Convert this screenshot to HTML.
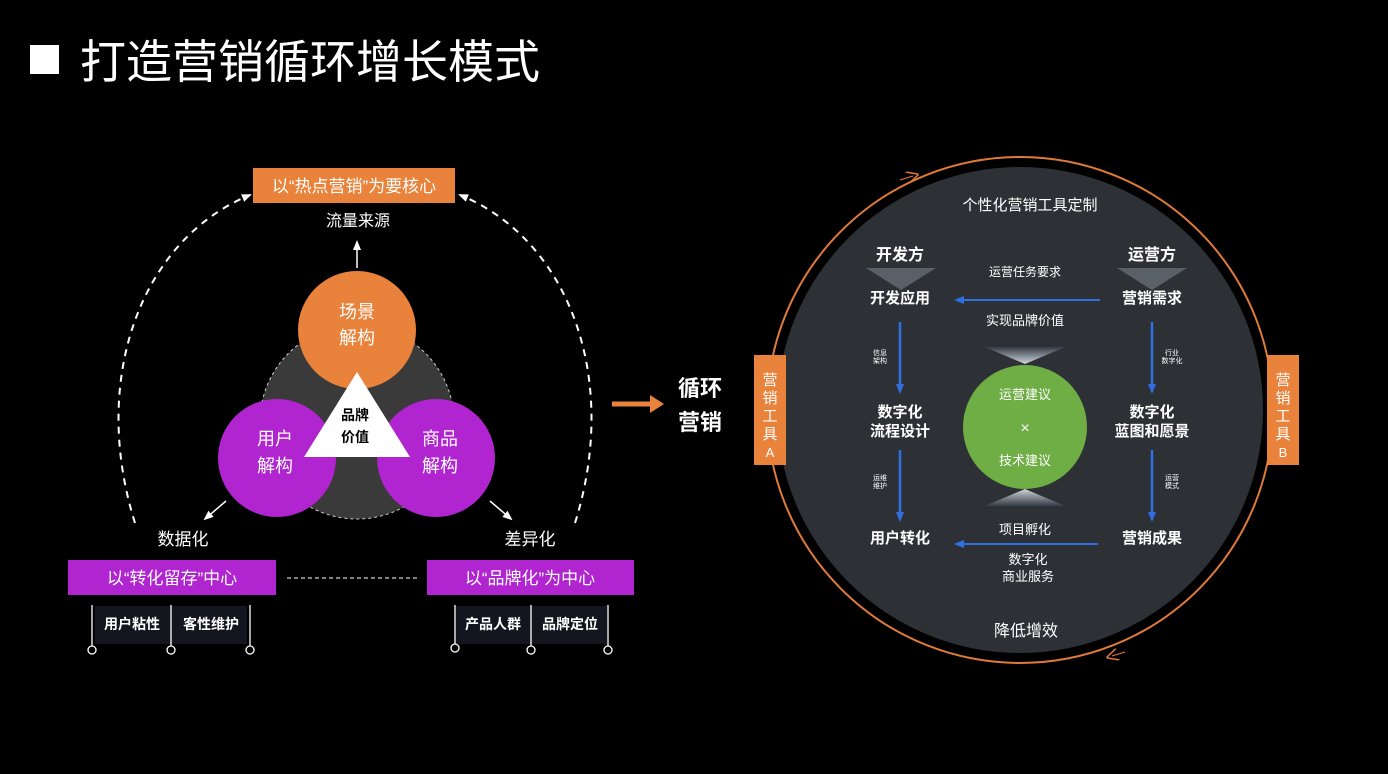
<!DOCTYPE html>
<html><head><meta charset="utf-8"><style>
body{margin:0;background:#000;width:1388px;height:774px;overflow:hidden}
svg{display:block}
text{font-family:"Liberation Sans","Noto Sans CJK SC",sans-serif;fill:#fff}
</style></head><body>
<svg width="1388" height="774" viewBox="0 0 1388 774">
<defs>
<marker id="ah" markerUnits="userSpaceOnUse" markerWidth="10" markerHeight="10" refX="8" refY="5" orient="auto"><path d="M0,1 L10,5 L0,9 z" fill="#fff"/></marker>
<marker id="bh" markerUnits="userSpaceOnUse" markerWidth="10" markerHeight="10" refX="8" refY="5" orient="auto"><path d="M0,1 L10,5 L0,9 z" fill="#2f6fe0"/></marker>
<marker id="oh" markerUnits="userSpaceOnUse" markerWidth="12" markerHeight="12" refX="6" refY="6" orient="auto"><path d="M0,0 L12,6 L0,12" fill="none" stroke="#e07a3a" stroke-width="1.5"/></marker>
<linearGradient id="hg" x1="0" y1="0" x2="0" y2="1"><stop offset="0" stop-color="#222831"/><stop offset="1" stop-color="#d0d6dc"/></linearGradient>
<linearGradient id="hg2" x1="0" y1="1" x2="0" y2="0"><stop offset="0" stop-color="#222831"/><stop offset="1" stop-color="#d0d6dc"/></linearGradient>
</defs>
<rect x="30" y="45" width="29" height="29" fill="#fff"/>
<text x="80" y="78" font-size="46">打造营销循环增长模式</text>

<rect x="253" y="168" width="202" height="35" fill="#e9823a"/>
<text x="354" y="192" font-size="17" text-anchor="middle">以“热点营销”为要核心</text>
<text x="358" y="226" font-size="16" text-anchor="middle">流量来源</text>
<line x1="357" y1="268" x2="357" y2="242" stroke="#fff" stroke-width="1.5" marker-end="url(#ah)"/>
<path d="M135,523 C90,380 140,240 250,195" fill="none" stroke="#fff" stroke-width="2" stroke-dasharray="7,6" marker-end="url(#ah)"/>
<path d="M575,523 C620,380 570,240 460,195" fill="none" stroke="#fff" stroke-width="2" stroke-dasharray="7,6" marker-end="url(#ah)"/>
<circle cx="357" cy="422" r="97" fill="#3a3a3a" stroke="#ccc" stroke-width="1" stroke-dasharray="3,3"/>
<circle cx="357" cy="330" r="59" fill="#e9823a"/>
<circle cx="277" cy="458" r="59" fill="#b025d0"/>
<circle cx="436" cy="458" r="59" fill="#b025d0"/>
<polygon points="357,372 304,457 410,457" fill="#fff"/>
<text x="357" y="318" font-size="18" text-anchor="middle">场景</text>
<text x="357" y="344" font-size="18" text-anchor="middle">解构</text>
<text x="275" y="445" font-size="18" text-anchor="middle">用户</text>
<text x="275" y="472" font-size="18" text-anchor="middle">解构</text>
<text x="440" y="445" font-size="18" text-anchor="middle">商品</text>
<text x="440" y="472" font-size="18" text-anchor="middle">解构</text>
<text x="355" y="420" font-size="14" font-weight="bold" text-anchor="middle" style="fill:#000">品牌</text>
<text x="355" y="442" font-size="14" font-weight="bold" text-anchor="middle" style="fill:#000">价值</text>
<line x1="226" y1="501" x2="205" y2="519" stroke="#fff" stroke-width="1.5" marker-end="url(#ah)"/>
<line x1="490" y1="501" x2="511" y2="519" stroke="#fff" stroke-width="1.5" marker-end="url(#ah)"/>
<text x="183" y="545" font-size="17" text-anchor="middle">数据化</text>
<text x="530" y="545" font-size="17" text-anchor="middle">差异化</text>
<rect x="68" y="560" width="208" height="35" fill="#b025d0"/>
<text x="172" y="584" font-size="17" text-anchor="middle">以“转化留存”中心</text>
<rect x="427" y="560" width="207" height="35" fill="#b025d0"/>
<text x="530" y="584" font-size="17" text-anchor="middle">以“品牌化”为中心</text>
<line x1="287" y1="578" x2="417" y2="578" stroke="#fff" stroke-width="1" stroke-dasharray="4,3"/>
<rect x="95" y="606" width="152" height="38" fill="#15151f"/>
<rect x="455" y="606" width="152" height="38" fill="#15151f"/>
<g stroke="#fff" stroke-width="1.3" fill="#000">
<line x1="92" y1="605" x2="92" y2="646"/><circle cx="92" cy="650" r="4"/>
<line x1="171" y1="605" x2="171" y2="646"/><circle cx="171" cy="650" r="4"/>
<line x1="250" y1="605" x2="250" y2="646"/><circle cx="250" cy="650" r="4"/>
<line x1="455" y1="605" x2="455" y2="644"/><circle cx="455" cy="648" r="4"/>
<line x1="531" y1="605" x2="531" y2="646"/><circle cx="531" cy="650" r="4"/>
<line x1="608" y1="605" x2="608" y2="646"/><circle cx="608" cy="650" r="4"/>
</g>
<text x="132" y="629" font-size="14" font-weight="bold" text-anchor="middle">用户粘性</text>
<text x="211" y="629" font-size="14" font-weight="bold" text-anchor="middle">客性维护</text>
<text x="493" y="629" font-size="14" font-weight="bold" text-anchor="middle">产品人群</text>
<text x="570" y="629" font-size="14" font-weight="bold" text-anchor="middle">品牌定位</text>

<line x1="612" y1="404" x2="652" y2="404" stroke="#e9823a" stroke-width="5"/>
<polygon points="650,395 664,404 650,413" fill="#e9823a"/>
<text x="678" y="396" font-size="22" font-weight="bold">循环</text>
<text x="678" y="430" font-size="22" font-weight="bold">营销</text>

<circle cx="1020" cy="410" r="253" fill="none" stroke="#e07a3a" stroke-width="2"/>
<path d="M900,180 L913,176" stroke="#e07a3a" fill="none" marker-end="url(#oh)"/>
<path d="M1125,652 L1112,656" stroke="#e07a3a" fill="none" marker-end="url(#oh)"/>
<circle cx="1020" cy="410" r="243" fill="#2d3136"/>
<rect x="754" y="355" width="32" height="110" fill="#e9823a"/>
<text x="770" y="385" font-size="15" text-anchor="middle">营</text>
<text x="770" y="403" font-size="15" text-anchor="middle">销</text>
<text x="770" y="421" font-size="15" text-anchor="middle">工</text>
<text x="770" y="439" font-size="15" text-anchor="middle">具</text>
<text x="770" y="457" font-size="13" text-anchor="middle">A</text>
<rect x="1267" y="355" width="32" height="110" fill="#e9823a"/>
<text x="1283" y="385" font-size="15" text-anchor="middle">营</text>
<text x="1283" y="403" font-size="15" text-anchor="middle">销</text>
<text x="1283" y="421" font-size="15" text-anchor="middle">工</text>
<text x="1283" y="439" font-size="15" text-anchor="middle">具</text>
<text x="1283" y="457" font-size="13" text-anchor="middle">B</text>
<text x="1030" y="210" font-size="15" text-anchor="middle">个性化营销工具定制</text>
<text x="1026" y="636" font-size="16" text-anchor="middle">降低增效</text>
<text x="900" y="260" font-size="16" font-weight="bold" text-anchor="middle">开发方</text>
<text x="1152" y="260" font-size="16" font-weight="bold" text-anchor="middle">运营方</text>
<polygon points="866,268 936,268 901,290" fill="#5a6068"/>
<polygon points="1117,268 1187,268 1152,290" fill="#5a6068"/>
<text x="900" y="303" font-size="15" font-weight="bold" text-anchor="middle">开发应用</text>
<text x="1152" y="303" font-size="15" font-weight="bold" text-anchor="middle">营销需求</text>
<text x="1025" y="276" font-size="12" text-anchor="middle">运营任务要求</text>
<line x1="1100" y1="300" x2="956" y2="300" stroke="#2f6fe0" stroke-width="2" marker-end="url(#bh)"/>
<text x="1025" y="325" font-size="13" text-anchor="middle">实现品牌价值</text>
<line x1="900" y1="322" x2="900" y2="392" stroke="#2f6fe0" stroke-width="2.5" marker-end="url(#bh)"/>
<line x1="1152" y1="322" x2="1152" y2="392" stroke="#2f6fe0" stroke-width="2.5" marker-end="url(#bh)"/>
<line x1="900" y1="450" x2="900" y2="520" stroke="#2f6fe0" stroke-width="2.5" marker-end="url(#bh)"/>
<line x1="1152" y1="450" x2="1152" y2="520" stroke="#2f6fe0" stroke-width="2.5" marker-end="url(#bh)"/>
<text x="880" y="355" font-size="7" text-anchor="middle">信息</text>
<text x="880" y="363" font-size="7" text-anchor="middle">架构</text>
<text x="1172" y="355" font-size="7" text-anchor="middle">行业</text>
<text x="1172" y="363" font-size="7" text-anchor="middle">数字化</text>
<text x="880" y="480" font-size="7" text-anchor="middle">运维</text>
<text x="880" y="488" font-size="7" text-anchor="middle">维护</text>
<text x="1172" y="480" font-size="7" text-anchor="middle">运营</text>
<text x="1172" y="488" font-size="7" text-anchor="middle">模式</text>
<text x="900" y="417" font-size="15" font-weight="bold" text-anchor="middle">数字化</text>
<text x="900" y="436" font-size="15" font-weight="bold" text-anchor="middle">流程设计</text>
<text x="1152" y="417" font-size="15" font-weight="bold" text-anchor="middle">数字化</text>
<text x="1152" y="436" font-size="15" font-weight="bold" text-anchor="middle">蓝图和愿景</text>
<polygon points="980,345 1070,345 1025,364" fill="url(#hg)"/>
<polygon points="980,508 1070,508 1025,489" fill="url(#hg2)"/>
<circle cx="1025" cy="427" r="62" fill="#6fad45"/>
<text x="1025" y="399" font-size="13" text-anchor="middle">运营建议</text>
<text x="1025" y="433" font-size="16" text-anchor="middle">×</text>
<text x="1025" y="465" font-size="13" text-anchor="middle">技术建议</text>
<text x="900" y="543" font-size="15" font-weight="bold" text-anchor="middle">用户转化</text>
<text x="1152" y="543" font-size="15" font-weight="bold" text-anchor="middle">营销成果</text>
<text x="1025" y="534" font-size="13" text-anchor="middle">项目孵化</text>
<line x1="1098" y1="544" x2="956" y2="544" stroke="#2f6fe0" stroke-width="2" marker-end="url(#bh)"/>
<text x="1028" y="564" font-size="13" text-anchor="middle">数字化</text>
<text x="1028" y="581" font-size="13" text-anchor="middle">商业服务</text>
</svg>
</body></html>
